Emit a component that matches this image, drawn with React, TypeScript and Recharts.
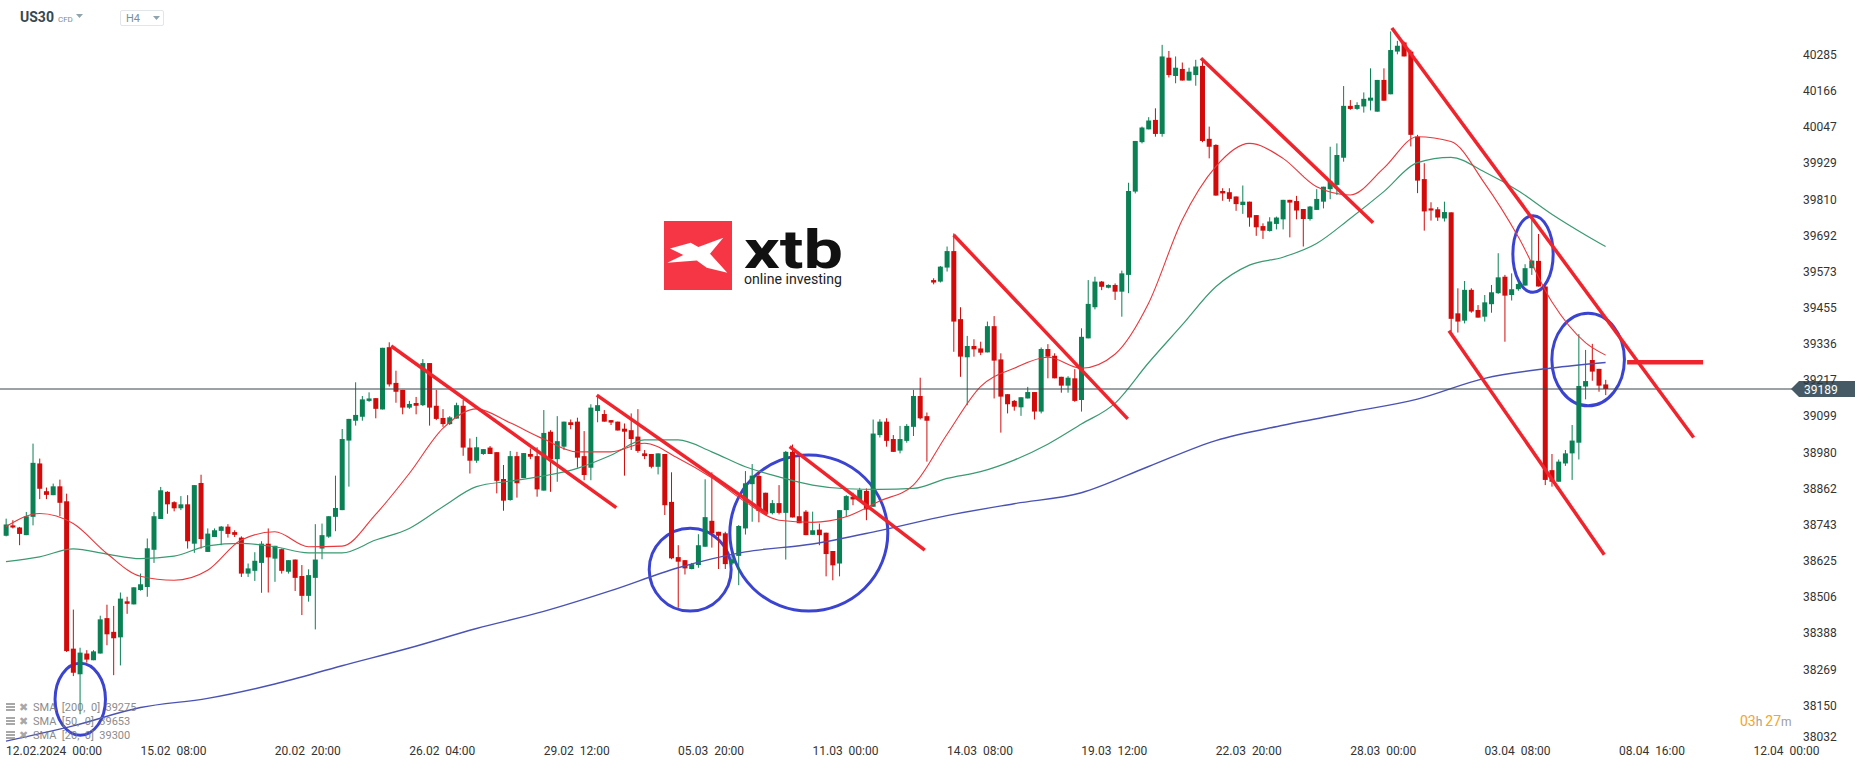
import React from 'react'
import { Bar, ComposedChart, Line, ReferenceArea, ReferenceLine, XAxis, YAxis } from 'recharts'

const W = 1866
const H = 767
const GREEN = '#0a8055'
const RED = '#d20a0a'
const TREND = '#f0242c'
const CIRCLE = '#3b44d0'

// US30 H4 candles, first one 12.02.2024 00:00
const opens = [
  38708, 38742, 38735, 38710, 38770, 38945, 38854, 38841, 38870, 38821,
  38338, 38254, 38322, 38300, 38322, 38438, 38393, 38375, 38493, 38483,
  38530, 38540, 38662, 38763, 38852, 38818, 38798, 38811, 38682, 38881,
  38655, 38704, 38724, 38738, 38720, 38702, 38584, 38593, 38619, 38682,
  38633, 38664, 38590, 38630, 38576, 38511, 38570, 38666, 38705, 38770,
  38792, 39020, 39085, 39098, 39150, 39159, 39122, 39326, 39209, 39186,
  39128, 39143, 39136, 39274, 39134, 39094, 39074, 39092, 39134, 38997,
  38954, 38976, 38997, 38982, 38894, 38825, 38969, 38897, 38976, 38969,
  38856, 39049, 38959, 39000, 39080, 39082, 38969, 38931, 39117, 39107,
  39087, 39082, 39059, 39054, 39033, 38978, 38976, 38934, 38976, 38819,
  38638, 38628, 38599, 38612, 38672, 38757, 38721, 38716, 38617, 38642,
  38732, 38877, 38904, 38849, 38782, 38815, 38783, 38983, 38772, 38787,
  38711, 38728, 38718, 38658, 38617, 38792, 38836, 38825, 38855, 38803,
  39038, 39082, 39025, 38987, 39019, 39065, 39166, 39100, 39546, 39541,
  39587, 39641, 39418, 39293, 39330, 39322, 39309, 39395, 39286, 39172,
  39150, 39129, 39158, 39179, 39115, 39320, 39298, 39229, 39200, 39224,
  39153, 39355, 39457, 39541, 39521, 39530, 39508, 39563, 39836, 39998,
  40040, 40071, 40025, 40275, 40215, 40238, 40200, 40218, 40248, 40009,
  39989, 39838, 39834, 39820, 39792, 39803, 39759, 39723, 39707, 39730,
  39745, 39809, 39805, 39779, 39746, 39776, 39803, 39844, 39858, 39947,
  40117, 40107, 40115, 40134, 40098, 40202, 40155, 40295, 40325, 40295,
  40016, 39877, 39781, 39778, 39748, 39768, 39437, 39413, 39514, 39448,
  39426, 39467, 39503, 39557, 39497, 39516, 39528, 39585, 39609, 39525,
  38923, 38885, 38945, 38978, 39013, 39197, 39284, 39255, 39204,
]
const highs = [
  38764, 38759, 38737, 38786, 39010, 38961, 38866, 38879, 38892, 38846,
  38466, 38341, 38333, 38333, 38446, 38482, 38478, 38522, 38508, 38539,
  38584, 38699, 38786, 38868, 38854, 38821, 38838, 38841, 38874, 38908,
  38732, 38732, 38740, 38746, 38726, 38706, 38617, 38654, 38690, 38732,
  38675, 38666, 38628, 38630, 38612, 38598, 38746, 38748, 38772, 38905,
  39058, 39091, 39211, 39166, 39178, 39159, 39324, 39342, 39249, 39186,
  39150, 39163, 39287, 39274, 39186, 39123, 39100, 39144, 39153, 39027,
  39032, 38992, 39002, 38982, 38940, 38986, 38983, 38979, 38994, 38998,
  39120, 39054, 39100, 39082, 39089, 39095, 39051, 39139, 39169, 39120,
  39087, 39082, 39076, 39109, 39123, 38989, 38976, 38978, 38976, 38916,
  38677, 38628, 38619, 38713, 38893, 38916, 38721, 38721, 38650, 38743,
  38920, 38943, 38920, 38849, 38825, 38874, 38986, 39007, 38972, 38792,
  38787, 38748, 38718, 38658, 38792, 38841, 38849, 38865, 38863, 39089,
  39090, 39093, 39038, 39068, 39074, 39186, 39226, 39112, 39552, 39592,
  39656, 39699, 39457, 39363, 39352, 39344, 39410, 39428, 39306, 39172,
  39153, 39162, 39196, 39179, 39325, 39336, 39306, 39229, 39231, 39254,
  39388, 39546, 39557, 39543, 39532, 39535, 39577, 39865, 40002, 40049,
  40080, 40109, 40317, 40297, 40279, 40259, 40242, 40268, 40273, 40049,
  39991, 39847, 39847, 39820, 39856, 39803, 39759, 39732, 39752, 39754,
  39809, 39809, 39822, 39779, 39789, 39844, 39852, 39983, 39994, 40182,
  40136, 40129, 40161, 40240, 40202, 40240, 40361, 40330, 40328, 40301,
  40022, 39929, 39801, 39785, 39803, 39768, 39519, 39543, 39519, 39464,
  39497, 39530, 39634, 39563, 39568, 39541, 39598, 39754, 39697, 39525,
  38976, 38958, 38989, 39071, 39369, 39317, 39337, 39255, 39219,
]
const lows = [
  38706, 38732, 38677, 38710, 38742, 38828, 38828, 38841, 38772, 38327,
  38248, 38123, 38292, 38300, 38322, 38349, 38251, 38283, 38452, 38483,
  38528, 38508, 38619, 38763, 38780, 38788, 38792, 38666, 38652, 38666,
  38655, 38704, 38677, 38702, 38704, 38573, 38573, 38560, 38521, 38522,
  38557, 38584, 38584, 38527, 38448, 38492, 38401, 38631, 38701, 38723,
  38792, 38869, 39069, 39085, 39147, 39093, 39122, 39197, 39144, 39106,
  39124, 39106, 39133, 39069, 39087, 39065, 39071, 39092, 38970, 38912,
  38947, 38973, 38976, 38847, 38790, 38823, 38833, 38897, 38959, 38836,
  38856, 38852, 38885, 38989, 39057, 38931, 38890, 38890, 39080, 39082,
  39071, 39053, 38905, 38989, 38980, 38959, 38929, 38909, 38776, 38631,
  38472, 38581, 38598, 38603, 38672, 38669, 38599, 38599, 38612, 38546,
  38712, 38754, 38752, 38781, 38778, 38778, 38630, 38768, 38749, 38710,
  38711, 38677, 38575, 38562, 38575, 38770, 38808, 38819, 38759, 38803,
  39030, 39000, 38983, 38978, 39013, 39035, 39089, 38951, 39532, 39538,
  39574, 39311, 39229, 39136, 39295, 39300, 39309, 39158, 39046, 39109,
  39118, 39101, 39158, 39089, 39109, 39224, 39224, 39177, 39177, 39147,
  39115, 39355, 39450, 39513, 39519, 39481, 39426, 39503, 39830, 39994,
  40040, 40016, 40016, 40210, 40191, 40200, 40200, 40183, 39998, 39945,
  39823, 39806, 39803, 39773, 39763, 39721, 39691, 39681, 39705, 39712,
  39712, 39686, 39745, 39656, 39741, 39776, 39781, 39811, 39825, 39934,
  40104, 40104, 40095, 40102, 40098, 40134, 40155, 40286, 40279, 39984,
  39831, 39708, 39741, 39740, 39738, 39377, 39374, 39404, 39439, 39423,
  39410, 39439, 39501, 39344, 39479, 39511, 39528, 39563, 39525, 38874,
  38869, 38885, 38937, 38891, 38958, 39155, 39216, 39180, 39169,
]
const closes = [
  38745, 38735, 38714, 38772, 38947, 38862, 38842, 38870, 38816, 38330,
  38259, 38325, 38302, 38329, 38434, 38385, 38372, 38502, 38485, 38539,
  38549, 38667, 38772, 38857, 38811, 38798, 38811, 38690, 38874, 38697,
  38715, 38726, 38738, 38714, 38711, 38584, 38601, 38626, 38682, 38637,
  38675, 38593, 38628, 38570, 38511, 38579, 38630, 38710, 38772, 38799,
  39025, 39091, 39104, 39155, 39158, 39124, 39324, 39204, 39180, 39128,
  39140, 39134, 39274, 39128, 39091, 39074, 39096, 39136, 38997, 38954,
  38998, 38992, 38976, 38888, 38823, 38969, 38880, 38979, 38967, 38860,
  39045, 38959, 39018, 39082, 39071, 38964, 38907, 39128, 39136, 39082,
  39079, 39053, 39049, 39025, 38986, 38969, 38934, 38978, 38808, 38634,
  38623, 38601, 38615, 38677, 38769, 38716, 38708, 38615, 38631, 38740,
  38880, 38905, 38789, 38783, 38815, 38783, 38983, 38768, 38749, 38710,
  38726, 38710, 38648, 38611, 38792, 38838, 38827, 38858, 38794, 39043,
  39082, 39019, 38983, 39025, 39068, 39166, 39093, 39085, 39538, 39590,
  39641, 39410, 39295, 39330, 39319, 39308, 39395, 39282, 39164, 39139,
  39131, 39162, 39179, 39115, 39320, 39295, 39224, 39200, 39226, 39150,
  39360, 39468, 39541, 39524, 39530, 39508, 39568, 39838, 40002, 40046,
  40069, 40025, 40279, 40218, 40242, 40200, 40229, 40246, 40002, 39983,
  39823, 39830, 39812, 39795, 39803, 39751, 39719, 39708, 39738, 39751,
  39809, 39800, 39774, 39746, 39787, 39812, 39852, 39869, 39956, 40117,
  40107, 40120, 40140, 40144, 40202, 40134, 40300, 40314, 40279, 40022,
  39872, 39771, 39774, 39751, 39769, 39419, 39410, 39514, 39443, 39423,
  39473, 39506, 39555, 39495, 39516, 39533, 39585, 39610, 39525, 38891,
  38885, 38951, 38978, 39020, 39199, 39215, 39246, 39200, 39189,
]

// moving averages at these candle indices
const smaIdx = [
  0, 5, 10, 15, 20, 25, 30, 35, 40, 45, 50, 55, 60, 65, 70, 75, 80, 85, 90, 95,
  100, 105, 110, 115, 120, 125, 130, 135, 140, 145, 150, 155, 160, 165, 170, 175,
  180, 185, 190, 195, 200, 205, 210, 215, 220, 225, 230, 235, 238,
]
const sma20 = [
  38738, 38781, 38748, 38650, 38575, 38562, 38595, 38694, 38721, 38672,
  38674, 38778, 38912, 39060, 39124, 39078, 39025, 38983, 38983, 39011,
  38962, 38898, 38819, 38759, 38752, 38770, 38822, 38874, 39040, 39197,
  39257, 39293, 39257, 39303, 39470, 39743, 39918, 39994, 39945, 39852,
  39825, 39913, 40016, 40000, 39863, 39688, 39475, 39341, 39300,
]
const sma50 = [
  38623, 38639, 38665, 38648, 38633, 38641, 38675, 38683, 38672, 38652,
  38652, 38694, 38732, 38803, 38869, 38887, 38904, 38929, 38972, 39022,
  39022, 38983, 38934, 38901, 38874, 38862, 38860, 38863, 38896, 38918,
  38956, 39008, 39074, 39142, 39275, 39399, 39524, 39595, 39621, 39666,
  39748, 39836, 39931, 39948, 39900, 39839, 39762, 39694, 39656,
]
const sma200Idx = [0, 10, 20, 30, 40, 50, 60, 70, 80, 90, 100, 110, 120, 130, 140, 150, 160, 170, 180, 190, 200, 210, 220, 230, 238]
const sma200 = [
  38035, 38085, 38145, 38175, 38222, 38282, 38340, 38404, 38460, 38528,
  38603, 38655, 38681, 38725, 38774, 38813, 38849, 38935, 39020, 39070,
  39113, 39156, 39224, 39258, 39276,
]

const priceTicks = [
  40285, 40166, 40047, 39929, 39810, 39692, 39573, 39455, 39336, 39217,
  39099, 38980, 38862, 38743, 38625, 38506, 38388, 38269, 38150, 38032,
]
const dateTicks = [0, 20, 40, 60, 80, 100, 120, 140, 160, 180, 200, 220, 240, 260]
const dateLabels = [
  '12.02.2024  00:00', '15.02  08:00', '20.02  20:00', '26.02  04:00', '29.02  12:00',
  '05.03  20:00', '11.03  00:00', '14.03  08:00', '19.03  12:00', '22.03  20:00',
  '28.03  00:00', '03.04  08:00', '08.04  16:00', '12.04  00:00',
]
const lastPrice = 39189

// drawn annotations: [candle index, price] pairs
const trendLines = [
  [[57.3, 39330], [90.8, 38800]],
  [[87.9, 39169], [113.3, 38778]],
  [[116.6, 39000], [136.7, 38661]],
  [[141.0, 39694], [166.9, 39091]],
  [[177.8, 40273], [203.4, 39734]],
  [[206.2, 40372], [251.1, 39030]],
  [[214.7, 39380], [237.8, 38646]],
]
const levelLine = [[241.2, 39277], [252.5, 39277]]
// [from index, to index, low price, high price]
const circles = [
  [7.3, 14.8, 38054, 38290],
  [95.7, 107.9, 38461, 38733],
  [107.7, 131.2, 38461, 38973],
  [224.2, 230.2, 39506, 39757],
  [230.0, 240.8, 39134, 39437],
]

const rows: any[] = opens.map((o, i) => ({
  i,
  open: o,
  high: highs[i],
  low: lows[i],
  close: closes[i],
  range: [lows[i], highs[i]],
}))
smaIdx.forEach((k, j) => {
  rows[k].sma20 = sma20[j]
  rows[k].sma50 = sma50[j]
})
sma200Idx.forEach((k, j) => {
  rows[k].sma200 = sma200[j]
})

const FONT = 'Roboto, "Noto Sans", sans-serif'

function Candle(props: any) {
  const { x, y, width, height, payload } = props
  if (x == null || y == null) return null
  const { open, close, high, low } = payload
  const cx = x + width / 2
  const k = high > low ? height / (high - low) : 0
  const yO = y + (high - open) * k
  const yC = y + (high - close) * k
  const color = close >= open ? GREEN : RED
  const top = Math.min(yO, yC)
  const h = Math.max(1, Math.abs(yC - yO))
  return (
    <g>
      <line x1={cx} x2={cx} y1={y} y2={y + height} stroke={color} strokeWidth={1} />
      <rect x={cx - 2.5} y={top} width={5} height={h} fill={color} />
    </g>
  )
}

function DateTick({ x, y, payload }: any) {
  const idx = dateTicks.indexOf(payload.value)
  return (
    <text x={x} y={y + 13} fontSize={12} fill="#333" fontFamily={FONT} xmlSpace="preserve" style={{ whiteSpace: 'pre' }}>
      {dateLabels[idx]}
    </text>
  )
}

function PriceTick({ x, y, payload }: any) {
  const shift = payload.value === 38032 ? -5 : 0
  return (
    <text x={x} y={y + 4 + shift} fontSize={12} fill="#333" fontFamily={FONT}>
      {payload.value}
    </text>
  )
}

function PriceTag({ viewBox }: any) {
  const tip = viewBox.x + viewBox.width - 4
  const y = viewBox.y
  return (
    <g>
      <path d={`M${tip},${y} L${tip + 8},${y - 8} L${tip + 64},${y - 8} L${tip + 64},${y + 8} L${tip + 8},${y + 8} Z`} fill="#455a64" />
      <text x={tip + 13} y={y + 4.5} fontSize={12} fill="#fff" fontFamily={FONT}>{lastPrice}</text>
    </g>
  )
}

const ellipseShape = (p: any) => (
  <ellipse
    cx={p.x + p.width / 2}
    cy={p.y + p.height / 2}
    rx={Math.abs(p.width / 2)}
    ry={Math.abs(p.height / 2)}
    fill="none"
    stroke={CIRCLE}
    strokeWidth={3}
  />
)

function SmaRow({ label }: { label: string }) {
  return (
    <div style={{ display: 'flex', alignItems: 'center', height: 14, color: '#777', fontSize: 11, opacity: 0.85 }}>
      <svg width={10} height={10} style={{ marginLeft: 6, marginRight: 3 }}>
        <rect x={0} y={1} width={9} height={2} fill="#999" />
        <rect x={0} y={4} width={9} height={2} fill="#999" />
        <rect x={0} y={7} width={9} height={2} fill="#999" />
      </svg>
      <span style={{ fontSize: 11, color: '#999', marginRight: 5 }}>✖</span>
      <span style={{ whiteSpace: 'pre' }}>{label}</span>
    </div>
  )
}

export default function App() {
  return (
    <div style={{ position: 'fixed', left: 0, top: 0, width: W, height: H, background: '#fff', overflow: 'hidden', fontFamily: FONT }}>
      <ComposedChart width={W} height={H} data={rows} margin={{ top: 0, right: 0, bottom: 0, left: 0 }}>
        <XAxis
          dataKey="i"
          type="number"
          domain={[-0.893, 266.18]}
          allowDataOverflow
          ticks={dateTicks}
          interval={0}
          tick={<DateTick />}
          axisLine={false}
          tickLine={false}
          tickSize={0}
          tickMargin={0}
          height={25}
        />
        <YAxis
          orientation="right"
          type="number"
          domain={[38032, 40464]}
          allowDataOverflow
          ticks={priceTicks}
          interval={0}
          tick={<PriceTick />}
          axisLine={false}
          tickLine={false}
          tickSize={0}
          tickMargin={8}
          width={71}
        />
        <Bar dataKey="range" barSize={5} shape={Candle} isAnimationActive={false} />
        <Line dataKey="sma200" type="monotone" stroke="#4a53b5" strokeWidth={1.4} dot={false} activeDot={false} connectNulls isAnimationActive={false} />
        <Line dataKey="sma50" type="monotone" stroke="#3a9a72" strokeWidth={1.2} dot={false} activeDot={false} connectNulls isAnimationActive={false} />
        <Line dataKey="sma20" type="monotone" stroke="#e8383d" strokeWidth={1.1} dot={false} activeDot={false} connectNulls isAnimationActive={false} />
        <ReferenceLine y={lastPrice} stroke="#37474f" strokeWidth={1} label={<PriceTag />} ifOverflow="visible" />
        {trendLines.map((seg, n) => (
          <ReferenceLine
            key={`t${n}`}
            segment={[{ x: seg[0][0], y: seg[0][1] }, { x: seg[1][0], y: seg[1][1] }]}
            stroke={TREND}
            strokeWidth={3.5}
            ifOverflow="visible"
          />
        ))}
        <ReferenceLine
          segment={[{ x: levelLine[0][0], y: levelLine[0][1] }, { x: levelLine[1][0], y: levelLine[1][1] }]}
          stroke={TREND}
          strokeWidth={4.5}
          ifOverflow="visible"
        />
        {circles.map((c, n) => (
          <ReferenceArea key={`c${n}`} x1={c[0]} x2={c[1]} y1={c[2]} y2={c[3]} shape={ellipseShape} ifOverflow="visible" />
        ))}
      </ComposedChart>

      {/* header */}
      <div style={{ position: 'absolute', left: 20, top: 9, display: 'flex', alignItems: 'baseline', pointerEvents: 'none' }}>
        <span style={{ fontWeight: 700, fontSize: 14, color: '#37474f' }}>US30</span>
        <span style={{ fontSize: 8, color: '#78909c', marginLeft: 4 }}>CFD</span>
      </div>
      <svg style={{ position: 'absolute', left: 76, top: 14 }} width={8} height={5}>
        <polygon points="0,0 7,0 3.5,4" fill="#90a4ae" />
      </svg>
      <div style={{ position: 'absolute', left: 120, top: 10, width: 42, height: 14, border: '1px solid #e3e6e8', borderRadius: 2 }}>
        <span style={{ position: 'absolute', left: 5, top: 1, fontSize: 11, color: '#78909c' }}>H4</span>
        <svg style={{ position: 'absolute', left: 32, top: 5 }} width={8} height={5}>
          <polygon points="0,0 7,0 3.5,4" fill="#90a4ae" />
        </svg>
      </div>

      {/* logo */}
      <div style={{ position: 'absolute', left: 664, top: 221, width: 68, height: 69, background: '#f63644' }}>
        <svg width={68} height={69}>
          <polygon points="6,27.4 26.7,21.7 34.3,26 59.3,16.7 46,32.7 63.3,51.7 42.7,46.7 32.7,39.4 3.3,41.7 19.3,34" fill="#fff" />
        </svg>
      </div>
      <svg style={{ position: 'absolute', left: 740, top: 200 }} width={120} height={100}>
        <text x={4} y={68} fontSize={53} fontWeight={700} fill="#111" fontFamily={FONT} textLength={99} lengthAdjust="spacingAndGlyphs">xtb</text>
        <text x={4} y={84} fontSize={14} fill="#222" fontFamily={FONT} textLength={98} lengthAdjust="spacingAndGlyphs">online investing</text>
      </svg>

      {/* indicator legend */}
      <div style={{ position: 'absolute', left: 0, top: 700, pointerEvents: 'none' }}>
        <SmaRow label="SMA  [200,  0]  39275" />
        <SmaRow label="SMA  [50,  0]  39653" />
        <SmaRow label="SMA  [20,  0]  39300" />
      </div>

      {/* candle countdown */}
      <div style={{ position: 'absolute', left: 1740, top: 713, fontSize: 14, whiteSpace: 'pre' }}>
        <span style={{ color: '#f5a623' }}>03</span>
        <span style={{ color: '#9e9e9e', fontSize: 12 }}>h </span>
        <span style={{ color: '#f5a623' }}>27</span>
        <span style={{ color: '#9e9e9e', fontSize: 12 }}>m</span>
      </div>
    </div>
  )
}
